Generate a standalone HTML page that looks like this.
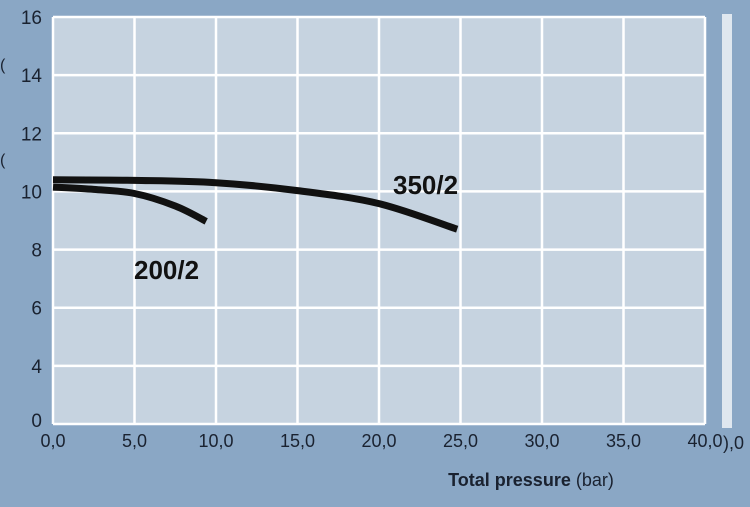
<!DOCTYPE html>
<html><head><meta charset="utf-8"><style>
html,body{margin:0;padding:0;}
body{width:750px;height:502px;background:#8aa7c5;overflow:hidden;font-family:"Liberation Sans",sans-serif;}
</style></head><body>
<svg id="chart" width="750" height="502" xmlns="http://www.w3.org/2000/svg">
<rect x="0" y="0" width="750" height="502" fill="#8aa7c5"/>
<rect x="722" y="14" width="10" height="414" fill="#dfe7ef"/>
<text x="723" y="449" font-size="18" fill="#1a2230">),0</text>
<text x="0" y="70" font-size="16" fill="#1a2230">(</text>
<text x="0" y="165" font-size="16" fill="#1a2230">(</text>
<g id="plot"></g>
<text x="531" y="486" font-size="18" fill="#1a2230" text-anchor="middle"><tspan font-weight="bold">Total pressure</tspan> (bar)</text>
</svg>
<script>
const xTicks = [0,5,10,15,20,25,30,35,40];
const xTickLabels = ["0,0","5,0","10,0","15,0","20,0","25,0","30,0","35,0","40,0"];
const yTicks = [2,4,6,8,10,12,14,16];
const yTickLabels = ["0","4","6","8","10","12","14","16"];
const s350x = [0,5,10,15,20,24.8];
const s350y = [10.4,10.38,10.3,10.03,9.58,8.7];
const s200x = [0,2.5,5,7.5,9.4];
const s200y = [10.15,10.07,9.93,9.5,8.97];
const seriesLabels = ["350/2","200/2"];

const L=53,R=705,T=17,B=424;
const xs=v=>L+(v-0)/(40-0)*(R-L);
const ys=v=>B-(v-2)/(16-2)*(B-T);
const NS="http://www.w3.org/2000/svg";
const g=document.getElementById('plot');
function mk(t,a,p){const e=document.createElementNS(NS,t);for(const k in a)e.setAttribute(k,a[k]);(p||g).appendChild(e);return e;}
const bg=mk('rect',{x:L,y:T,width:R-L,height:B-T,fill:'#c6d3e0'});


xTicks.forEach((v,i)=>{
  const l=mk('line',{x1:xs(v),x2:xs(v),y1:T,y2:B,stroke:'#ffffff','stroke-width':2.5});
  
  
  const t=mk('text',{x:xs(v),y:447,'font-size':18,fill:'#1a2230','text-anchor':'middle'});
  
  
  t.textContent=xTickLabels[i];
});
yTicks.forEach((v,i)=>{
  const l=mk('line',{x1:L,x2:R,y1:ys(v),y2:ys(v),stroke:'#ffffff','stroke-width':2.5});
  
  
  const t=mk('text',{x:42,y:ys(v)+(i==0?3:7),'font-size':19,fill:'#1a2230','text-anchor':'end'});
  
  
  t.textContent=yTickLabels[i];
});
function curve(xa,ya,name){
  const P=xa.map((x,i)=>[xs(x),ys(ya[i])]);
  let d='M'+P[0][0].toFixed(1)+','+P[0][1].toFixed(1);
  for(let i=0;i<P.length-1;i++){
    const p0=P[Math.max(0,i-1)],p1=P[i],p2=P[i+1],p3=P[Math.min(P.length-1,i+2)];
    const c1=[p1[0]+(p2[0]-p0[0])/6,p1[1]+(p2[1]-p0[1])/6];
    const c2=[p2[0]-(p3[0]-p1[0])/6,p2[1]-(p3[1]-p1[1])/6];
    d+='C'+c1.map(n=>n.toFixed(1)).join(',')+' '+c2.map(n=>n.toFixed(1)).join(',')+' '+p2.map(n=>n.toFixed(1)).join(',');
  }
  const p=mk('path',{d:d,fill:'none',stroke:'#111','stroke-width':7,'stroke-linejoin':'round'});
  
  
}
curve(s350x,s350y,'curve-350-2');
curve(s200x,s200y,'curve-200-2');
const t1=mk('text',{x:393,y:194,'font-size':26,'font-weight':'bold',fill:'#111'});


t1.textContent=seriesLabels[0];
const t2=mk('text',{x:134,y:279,'font-size':26,'font-weight':'bold',fill:'#111'});


t2.textContent=seriesLabels[1];
</script>
</body></html>
